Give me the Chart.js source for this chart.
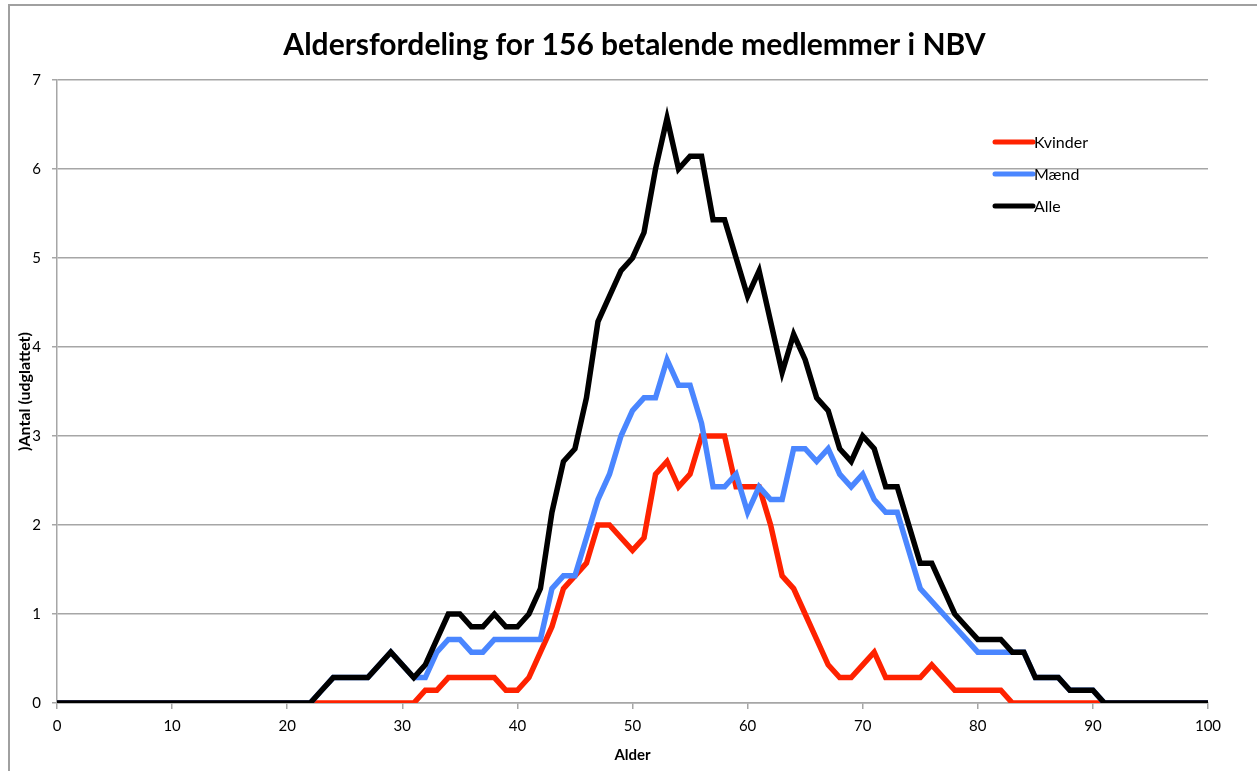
<!DOCTYPE html>
<html>
<head>
<meta charset="utf-8">
<script src="https://cdn.jsdelivr.net/npm/chart.js@4.4.1/dist/chart.umd.min.js"></script>
<style>
  html, body { margin: 0; padding: 0; background: #ffffff; }
  canvas { display: block; }
</style>
</head>
<body>
<canvas id="c" width="1257" height="771"></canvas>
<script>
// ---- data ----
const chartTitle = "Aldersfordeling for 156 betalende medlemmer i NBV";
const xTitle = "Alder";
const yTitle = ")Antal (udglattet)";
const seriesNames = ["Kvinder", "Mænd", "Alle"];

const ages = [0,1,2,3,4,5,6,7,8,9,10,11,12,13,14,15,16,17,18,19,20,
  21,22,23,24,25,26,27,28,29,30,31,32,33,34,35,36,37,38,39,40,
  41,42,43,44,45,46,47,48,49,50,51,52,53,54,55,56,57,58,59,60,
  61,62,63,64,65,66,67,68,69,70,71,72,73,74,75,76,77,78,79,80,
  81,82,83,84,85,86,87,88,89,90,91,92,93,94,95,96,97,98,99,100];

const kvinder = [0,0,0,0,0,0,0,0,0,0,0, 0,0,0,0,0,0,0,0,0,0,
  0,0,0,0,0,0,0,0,0,0,0,0.143,0.143,0.286,0.286,0.286,0.286,0.286,0.143,0.143,
  0.286,0.571,0.857,1.286,1.429,1.571,2.0,2.0,1.857,1.714,
  1.857,2.571,2.714,2.429,2.571,3.0,3.0,3.0,2.429,2.429,
  2.429,2.0,1.429,1.286,1.0,0.714,0.429,0.286,0.286,0.429,
  0.571,0.286,0.286,0.286,0.286,0.429,0.286,0.143,0.143,0.143,
  0.143,0.143,0,0,0,0,0,0,0,0, 0,0,0,0,0,0,0,0,0,0];

const maend = [0,0,0,0,0,0,0,0,0,0,0, 0,0,0,0,0,0,0,0,0,0,
  0,0,0.143,0.286,0.286,0.286,0.286,0.429,0.571,0.429,
  0.286,0.286,0.571,0.714,0.714,0.571,0.571,0.714,0.714,0.714,
  0.714,0.714,1.286,1.429,1.429,1.857,2.286,2.571,3.0,3.286,
  3.429,3.429,3.857,3.571,3.571,3.143,2.429,2.429,2.571,2.143,
  2.429,2.286,2.286,2.857,2.857,2.714,2.857,2.571,2.429,2.571,
  2.286,2.143,2.143,1.714,1.286,1.143,1.0,0.857,0.714,0.571,
  0.571,0.571,0.571,0.571,0.286,0.286,0.286,0.143,0.143,0.143,
  0,0,0,0,0,0,0,0,0,0];

const alle = [0,0,0,0,0,0,0,0,0,0,0, 0,0,0,0,0,0,0,0,0,0,
  0,0,0.143,0.286,0.286,0.286,0.286,0.429,0.571,0.429,
  0.286,0.429,0.714,1.0,1.0,0.857,0.857,1.0,0.857,0.857,
  1.0,1.286,2.143,2.714,2.857,3.429,4.286,4.571,4.857,5.0,
  5.286,6.0,6.571,6.0,6.143,6.143,5.429,5.429,5.0,4.571,
  4.857,4.286,3.714,4.143,3.857,3.429,3.286,2.857,2.714,3.0,
  2.857,2.429,2.429,2.0,1.571,1.571,1.286,1.0,0.857,0.714,
  0.714,0.714,0.571,0.571,0.286,0.286,0.286,0.143,0.143,0.143,
  0,0,0,0,0,0,0,0,0,0];

const xTicksStep = 10;
const yTicksStep = 1;

// ---- styles ----
const RED = "#ff2200";
const BLUE = "#4a86ff";
const BLACK = "#000000";
const GRAY = "#a6a6a6";
const FONT = "Lato";

const framePlugin = {
  id: "frame",
  beforeDraw(chart) {
    const c = chart.ctx;
    c.save();
    c.fillStyle = "#ffffff";
    c.fillRect(0, 0, chart.width, chart.height);
    c.strokeStyle = "#a0a0a0";
    c.lineWidth = 2;
    c.beginPath();
    c.moveTo(9, chart.height);
    c.lineTo(9, 5);
    c.lineTo(chart.width, 5);
    c.stroke();
    // title
    c.fillStyle = "#000";
    c.font = "bold 30px " + FONT;
    c.textAlign = "center";
    c.textBaseline = "middle";
    const a = chart.chartArea;
    c.fillText(chartTitle, (a.left + a.right) / 2 + 2, 45);
    c.restore();
  }
};

const legendPlugin = {
  id: "customLegend",
  afterDraw(chart) {
    const c = chart.ctx;
    c.save();
    const x0 = 995, x1 = 1033, ys = [142, 174, 206];
    seriesNames.forEach((name, i) => {
      const ds = chart.data.datasets.find(d => d.label === name);
      c.strokeStyle = ds.borderColor;
      c.lineWidth = 5;
      c.lineCap = "round";
      c.beginPath();
      c.moveTo(x0, ys[i]);
      c.lineTo(x1, ys[i]);
      c.stroke();
      c.fillStyle = "#000";
      c.font = "16px " + FONT;
      c.textAlign = "left";
      c.textBaseline = "middle";
      c.fillText(name, x1 + 1, ys[i] + 1);
    });
    c.restore();
  }
};

const mk = (label, data, color) => ({
  label, data, borderColor: color, backgroundColor: color,
  borderWidth: 5.5, pointRadius: 0, pointHoverRadius: 0, tension: 0, fill: false
});

new Chart(document.getElementById("c"), {
  type: "line",
  data: {
    labels: ages,
    datasets: [
      mk("Alle", alle, BLACK),
      mk("Mænd", maend, BLUE),
      mk("Kvinder", kvinder, RED)
    ]
  },
  options: {
    responsive: false,
    animation: false,
    devicePixelRatio: 1,
    layout: { padding: { left: 0, right: 49, top: 80, bottom: 0 } },
    plugins: {
      legend: { display: false },
      tooltip: { enabled: false },
      title: { display: false }
    },
    scales: {
      x: {
        type: "linear",
        min: 0, max: 100,
        ticks: { stepSize: xTicksStep, color: "#000", font: { family: FONT, size: 15 }, padding: 8, maxRotation: 0 },
        grid: { drawOnChartArea: false, drawTicks: true, tickLength: 6, color: GRAY, lineWidth: 1.5 },
        border: { color: GRAY, width: 1.5 },
        title: { display: true, text: xTitle, color: "#000", font: { family: FONT, size: 15, weight: "bold" }, padding: { top: 0, bottom: 7 } },
        afterFit(s) { s.height = 68; }
      },
      y: {
        min: 0, max: 7,
        ticks: { stepSize: yTicksStep, color: "#000", font: { family: FONT, size: 15 }, padding: 11 },
        grid: { color: GRAY, lineWidth: 1.5, tickLength: 5 },
        border: { color: GRAY, width: 1.5 },
        title: { display: true, text: yTitle, color: "#000", font: { family: FONT, size: 16, weight: "bold" }, padding: { top: 15, bottom: 0 } },
        afterFit(s) { s.width = 57; }
      }
    }
  },
  plugins: [framePlugin, legendPlugin]
});
</script>
</body>
</html>
